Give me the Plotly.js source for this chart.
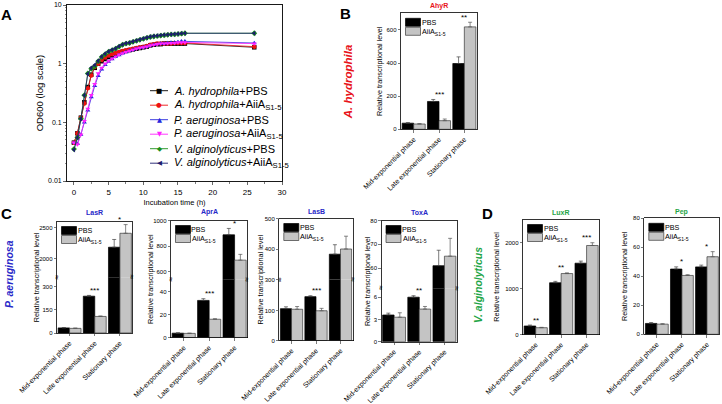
<!DOCTYPE html>
<html><head><meta charset="utf-8">
<script src="https://cdn.plot.ly/plotly-3.0.1.min.js"></script>
<style>html,body{margin:0;padding:0;background:#fff}#chart{width:722px;height:404px}</style>
</head><body><div id="chart"></div>
<script>
// ---------------- Panel A: growth curves (OD600) ----------------
const timeH = [0,0.5,1,1.5,2,2.5,3,3.5,4,4.5,5,5.5,6,6.5,7,7.5,8,8.5,9,9.5,10,10.5,11,11.5,12,12.5,13,13.5,14,14.5,15,15.5,16,26];
const odAhPBS  = [0.045,0.065,0.12,0.22,0.40,0.65,0.85,1.0,1.1,1.2,1.3,1.38,1.45,1.52,1.6,1.65,1.7,1.75,1.8,1.85,1.9,1.95,2.05,2.1,2.15,2.15,2.2,2.2,2.2,2.2,2.2,2.2,2.2,1.9];
const odAhAiiA = [0.045,0.065,0.12,0.21,0.38,0.63,0.88,1.0,1.15,1.28,1.38,1.45,1.52,1.58,1.65,1.7,1.75,1.8,1.85,1.9,1.95,2.0,2.1,2.15,2.2,2.2,2.2,2.2,2.2,2.25,2.25,2.25,2.25,1.95];
const odPaPBS  = [0.045,0.043,0.062,0.1,0.16,0.27,0.42,0.62,0.8,0.95,1.08,1.2,1.3,1.4,1.5,1.58,1.65,1.72,1.8,1.85,1.9,1.95,2.05,2.1,2.15,2.2,2.2,2.25,2.3,2.3,2.35,2.4,2.4,2.25];
const odPaAiiA = [0.045,0.042,0.062,0.105,0.17,0.29,0.45,0.68,0.85,1.0,1.12,1.22,1.32,1.42,1.5,1.58,1.65,1.72,1.8,1.85,1.9,1.95,2.05,2.1,2.15,2.2,2.2,2.22,2.25,2.25,2.3,2.3,2.3,2.2];
const odVaPBS  = [0.035,0.055,0.115,0.29,0.68,0.82,0.9,1.1,1.3,1.45,1.6,1.7,1.8,1.95,2.1,2.2,2.25,2.35,2.45,2.55,2.65,2.75,2.85,2.9,2.95,3.0,3.05,3.1,3.15,3.15,3.2,3.25,3.3,3.3];
const odVaAiiA = [0.034,0.055,0.115,0.29,0.67,0.85,0.95,1.12,1.32,1.48,1.62,1.72,1.82,1.98,2.12,2.22,2.28,2.38,2.48,2.58,2.68,2.78,2.88,2.95,3.0,3.05,3.1,3.12,3.15,3.2,3.22,3.28,3.3,3.3];
const growthLabels = ['<i>A. hydrophila</i>+PBS','<i>A. hydrophila</i>+AiiA<sub>S1-5</sub>','<i>P. aeruginosa</i>+PBS','<i>P. aeruginosa</i>+AiiA<sub>S1-5</sub>','<i>V. alginolyticus</i>+PBS','<i>V. alginolyticus</i>+AiiA<sub>S1-5</sub>'];
const odTickVals = [0.01,0.1,1,10];
const odTickText = ['0.01','0.1','1','10'];

// ---------------- Panels B-D: relative transcriptional level ----------------
const phases = ['Mid-exponential phase','Late exponential phase','Stationary phase'];
const ahyrPBS = [37,168,397],      ahyrPBSErr = [3,12,40],     ahyrAiiA = [32,52,618],     ahyrAiiAErr = [2,10,28],    ahyrSig = ['','***','**'];
const lasrPBS = [33,238,2185],     lasrPBSErr = [2,5,125],     lasrAiiA = [30,107,2410],   lasrAiiAErr = [2,3,140],    lasrSig = ['','***','*'];
const aprAPBS = [3.8,32.5,888],    aprAPBSErr = [0.3,1.5,50],  aprAAiiA = [3.6,16,690],    aprAAiiAErr = [0.2,0.4,45], aprASig = ['','***','*'];
const lasbPBS = [106,146,383],     lasbPBSErr = [6,3,31],      lasbAiiA = [104,99,400],    lasbAiiAErr = [9,8,42],     lasbSig = ['','***',''];
const toxAPBS = [3.6,6.0,61],      toxAPBSErr = [0.25,0.2,6.5],toxAAiiA = [3.3,4.4,65],    toxAAiiAErr = [0.6,0.35,7.5],toxASig = ['','**',''];
const luxrPBS = [185,1125,1550],   luxrPBSErr = [20,30,45],    luxrAiiA = [148,1325,1935], luxrAiiAErr = [8,15,60],    luxrSig = ['**','**','***'];
const pepPBS  = [7.5,45,46.5],     pepPBSErr = [0.6,1.5,1.2],  pepAiiA  = [7,40.6,53.5],   pepAiiAErr = [0.3,0.5,3.5], pepSig = ['','*','*'];

// ---------------- styles & geometry ----------------
const FONT = 'Liberation Sans, Arial, Helvetica, sans-serif';
const W = 722, H = 404;
const px = v => v / W;
const py = v => 1 - v / H;
const RED = '#e8141b', BLUE = '#2828c8', GREEN = '#1fa547';
const YTITLE = 'Relative transcriptional level';

const growthStyle = [
  {color:'#000000', symbol:'square',        glyph:'\u25A0'},
  {color:'#ee1111', symbol:'circle',        glyph:'\u25CF'},
  {color:'#2525dd', symbol:'triangle-up',   glyph:'\u25B2'},
  {color:'#ff22ff', symbol:'triangle-down', glyph:'\u25BC'},
  {color:'#1a8f1a', symbol:'diamond',       glyph:'\u25C6'},
  {color:'#1c1c6e', symbol:'triangle-left', glyph:'\u25C0'}
];
const growthData = [odAhPBS, odAhAiiA, odPaPBS, odPaAiiA, odVaPBS, odVaAiiA];

const traces = [];
const layout = {
  width: W, height: H,
  margin: {l:0, r:0, t:0, b:0, pad:0},
  paper_bgcolor: '#ffffff', plot_bgcolor: 'rgba(0,0,0,0)',
  font: {family: FONT, size: 7, color: '#000'},
  showlegend: false,
  barmode: 'group', bargap: 0.09, bargroupgap: 0,
  annotations: [], shapes: [],
  xaxis: {
    domain: [px(67), px(282)], anchor: 'y', range: [-1, 30],
    tick0: 0, dtick: 5, ticks: 'outside', ticklen: 3, tickwidth: 0.8,
    minor: {dtick: 2.5, tick0: 0, ticks: 'outside', ticklen: 1.8, tickwidth: 0.7},
    tickfont: {size: 8}, showline: true, linewidth: 0.9, linecolor: '#000', mirror: true,
    showgrid: false, zeroline: false, fixedrange: true, automargin: false,
    title: {text: 'Incubation time (h)', font: {size: 7.5}, standoff: 4}
  },
  yaxis: {
    domain: [py(181), py(5)], anchor: 'x', type: 'log', range: [-2, 1],
    tickvals: odTickVals, ticktext: odTickText, ticks: 'outside', ticklen: 3, tickwidth: 0.8,
    minor: {dtick: 'D1', ticks: 'outside', ticklen: 1.6, tickwidth: 0.6},
    tickfont: {size: 7}, showline: true, linewidth: 0.9, linecolor: '#000', mirror: true,
    showgrid: false, zeroline: false, fixedrange: true, automargin: false,
    title: {text: 'OD600 (log scale)', font: {size: 9.5}, standoff: 2}
  }
};

// Panel A traces
growthData.forEach((ys, i) => {
  const st = growthStyle[i];
  traces.push({
    type: 'scatter', mode: 'lines+markers', x: timeH, y: ys, xaxis: 'x', yaxis: 'y',
    name: growthLabels[i],
    line: {color: st.color, width: 0.8},
    marker: {symbol: st.symbol, size: 4.5, color: st.color, line: {width: 0}}
  });
});

// Panel A hand-built legend (compact spacing as in the original)
const legTop = 90.7, legStep = 14.5;
growthLabels.forEach((lab, i) => {
  const st = growthStyle[i];
  const yy = legTop + i * legStep;
  layout.shapes.push({type:'line', xref:'paper', yref:'paper', x0:px(150), x1:px(168), y0:py(yy), y1:py(yy), line:{color:st.color, width:0.9}});
  layout.annotations.push({xref:'paper', yref:'paper', x:px(159), y:py(yy), text:st.glyph, showarrow:false, xanchor:'center', yanchor:'middle', font:{family:'DejaVu Sans', size:6.5, color:st.color}});
  layout.annotations.push({xref:'paper', yref:'paper', x:px(172), y:py(yy), text:lab, showarrow:false, xanchor:'left', yanchor:'middle', font:{size:11, color:'#000'}});
});

// ---------------- bar panels ----------------
const barPanels = [
  {title:'AhyR', color:RED,  pbs:ahyrPBS, pbsErr:ahyrPBSErr, aiia:ahyrAiiA, aiiaErr:ahyrAiiAErr, sig:ahyrSig,
   x0:401, x1:477, yTop:13.3, yBot:129.3, range:[0,700], ticks:[0,200,400,600], titleY:5.5, standoff:2},
  {title:'LasR', color:BLUE, pbs:lasrPBS, pbsErr:lasrPBSErr, aiia:lasrAiiA, aiiaErr:lasrAiiAErr, sig:lasrSig,
   x0:57, x1:132.5, yTop:221.5, yBot:333, yBreak:277.3, lowRange:[0,360], lowTicks:[0,150,300], upRange:[1700,2600], upTicks:[2000,2500], titleY:212, yTitleX:36},
  {title:'AprA', color:BLUE, pbs:aprAPBS, pbsErr:aprAPBSErr, aiia:aprAAiiA, aiiaErr:aprAAiiAErr, sig:aprASig,
   x0:171, x1:247.3, yTop:220.5, yBot:337.5, yBreak:279.3, lowRange:[0,51], lowTicks:[0,20,40], upRange:[540,1000], upTicks:[600,800,1000], titleY:212, yTitleX:150},
  {title:'LasB', color:BLUE, pbs:lasbPBS, pbsErr:lasbPBSErr, aiia:lasbAiiA, aiiaErr:lasbAiiAErr, sig:lasbSig,
   x0:279.3, x1:352.7, yTop:218.5, yBot:340.5, yBreak:279.5, lowRange:[0,203], lowTicks:[0,100], upRange:[300,500], upTicks:[300,400,500], titleY:211.5, yTitleX:260},
  {title:'ToxA', color:BLUE, pbs:toxAPBS, pbsErr:toxAPBSErr, aiia:toxAAiiA, aiiaErr:toxAAiiAErr, sig:toxASig,
   x0:381.5, x1:457, yTop:220.5, yBot:341.7, yBreak:288.3, lowRange:[0,7.2], lowTicks:[0,3,6], upRange:[51.5,80], upTicks:[60,70,80], titleY:212.5, yTitleX:367},
  {title:'LuxR', color:GREEN, pbs:luxrPBS, pbsErr:luxrPBSErr, aiia:luxrAiiA, aiiaErr:luxrAiiAErr, sig:luxrSig,
   x0:523, x1:599.3, yTop:219.5, yBot:334.5, range:[0,2500], ticks:[0,1000,2000], titleY:212, standoff:4},
  {title:'Pep', color:GREEN, pbs:pepPBS, pbsErr:pepPBSErr, aiia:pepAiiA, aiiaErr:pepAiiAErr, sig:pepSig,
   x0:644.3, x1:719.5, yTop:218.3, yBot:334.3, range:[0,80], ticks:[0,20,40,60,80], titleY:212, standoff:4}
];

const PBS_FILL = '#000000', AIIA_FILL = '#c4c4c4', AIIA_LINE = '#3a3a3a';
let axisIdx = 2;

barPanels.forEach(p => {
  const broken = p.yBreak !== undefined;
  const segs = broken
    ? [{dom:[py(p.yBot), py(p.yBreak)], range:p.lowRange, ticks:p.lowTicks, low:true, single:false},
       {dom:[py(p.yBreak), py(p.yTop)], range:p.upRange, ticks:p.upTicks, low:false, single:false}]
    : [{dom:[py(p.yBot), py(p.yTop)], range:p.range, ticks:p.ticks, low:true, single:true}];
  const segRefs = [];
  segs.forEach(s => {
    const n = axisIdx++;
    const xr = 'x' + n, yr = 'y' + n;
    const common = {domain:[px(p.x0), px(p.x1)], anchor:yr, type:'category', range:[-0.5, 2.5],
      showline:true, linewidth:0.8, linecolor:'#000', showgrid:false, zeroline:false, fixedrange:true, automargin:false};
    if (s.low) {
      layout['xaxis' + n] = Object.assign({}, common, {
        tickangle:-45, tickfont:{size:7}, ticks:'outside', ticklen:2.5, tickwidth:0.7, mirror:s.single});
    } else {
      layout['xaxis' + n] = Object.assign({}, common, {side:'top', showticklabels:false, ticks:''});
    }
    layout['yaxis' + n] = {domain:s.dom, anchor:xr, range:s.range, tickvals:s.ticks,
      ticks:'outside', ticklen:2.5, tickwidth:0.7, tickfont:{size:6},
      showline:true, linewidth:0.8, linecolor:'#000', mirror:true,
      showgrid:false, zeroline:false, fixedrange:true, automargin:false};
    if (s.single) layout['yaxis' + n].title = {text: YTITLE, font: {size: 7.2}, standoff: p.standoff};
    traces.push({type:'bar', name:'PBS', x:phases, y:p.pbs, xaxis:xr, yaxis:yr,
      marker:{color:PBS_FILL, line:{color:'#000', width:0.7}},
      error_y:{type:'data', array:p.pbsErr, arrayminus:p.pbs.map(() => 0), color:'#444', thickness:0.7, width:2}});
    traces.push({type:'bar', name:'AiiA<sub>S1-5</sub>', x:phases, y:p.aiia, xaxis:xr, yaxis:yr,
      marker:{color:AIIA_FILL, line:{color:AIIA_LINE, width:0.7}},
      error_y:{type:'data', array:p.aiiaErr, arrayminus:p.aiia.map(() => 0), color:'#555', thickness:0.7, width:2}});
    segRefs.push({xr, yr, range:s.range});
  });

  // significance stars
  p.sig.forEach((txt, i) => {
    if (!txt) return;
    const top = Math.max(p.pbs[i] + p.pbsErr[i], p.aiia[i] + p.aiiaErr[i]);
    let ref = segRefs[0];
    if (segRefs.length > 1 && top > segRefs[0].range[1]) ref = segRefs[1];
    layout.annotations.push({xref:ref.xr, yref:ref.yr, x:i, y:top, text:txt, showarrow:false,
      xanchor:'center', yanchor:'middle', yshift:5, font:{size:8}});
  });

  if (broken) {
    // break marks
    [p.x0, p.x1].forEach(xx => layout.annotations.push({xref:'paper', yref:'paper', x:px(xx), y:py(p.yBreak),
      text:'\u2248', textangle:-90, showarrow:false, xanchor:'center', yanchor:'middle', font:{size:7, family:'DejaVu Sans'}}));
    // y title spanning both segments
    layout.annotations.push({xref:'paper', yref:'paper', x:px(p.yTitleX), y:py((p.yTop + p.yBot) / 2), text:YTITLE,
      textangle:-90, showarrow:false, xanchor:'center', yanchor:'middle', font:{size:7.2}});
  }

  // panel title
  layout.annotations.push({xref:'paper', yref:'paper', x:px((p.x0 + p.x1) / 2), y:py(p.titleY), text:p.title,
    showarrow:false, xanchor:'center', yanchor:'middle', font:{size:7, color:p.color, weight:'bold'}});
  // in-panel legend (swatches + labels)
  const lx0 = p.x0 + 4.5, lx1 = p.x0 + 19.5;
  layout.shapes.push({type:'rect', xref:'paper', yref:'paper', x0:px(lx0), x1:px(lx1), y0:py(p.yTop + 5), y1:py(p.yTop + 13),
    fillcolor:PBS_FILL, line:{color:'#000', width:0.7}});
  layout.shapes.push({type:'rect', xref:'paper', yref:'paper', x0:px(lx0), x1:px(lx1), y0:py(p.yTop + 14), y1:py(p.yTop + 22),
    fillcolor:AIIA_FILL, line:{color:AIIA_LINE, width:0.7}});
  layout.annotations.push({xref:'paper', yref:'paper', x:px(lx1 + 8.5), y:py(p.yTop + 9), text:'PBS', showarrow:false,
    xanchor:'center', yanchor:'middle', font:{size:7.2}});
  layout.annotations.push({xref:'paper', yref:'paper', x:px(lx1 + 13.5), y:py(p.yTop + 18.5), text:'AiiA<sub>S1-5</sub>', showarrow:false,
    xanchor:'center', yanchor:'middle', font:{size:7.2}});
});

// panel letters and species labels
[['A', 7, 14], ['B', 345, 13.3], ['C', 6, 213.7], ['D', 487.5, 213.5]].forEach(([t, x, y]) =>
  layout.annotations.push({xref:'paper', yref:'paper', x:px(x), y:py(y), text:t, showarrow:false,
    xanchor:'center', yanchor:'middle', font:{size:15, color:'#000', weight:'bold'}}));
[['A. hydrophila', 347.5, 81.7, RED, 11.5], ['P. aeruginosa', 9, 274, BLUE, 10.5], ['V. alginolyticus', 478, 285, GREEN, 10.5]].forEach(([t, x, y, c, s]) =>
  layout.annotations.push({xref:'paper', yref:'paper', x:px(x), y:py(y), text:t, textangle:-90, showarrow:false,
    xanchor:'center', yanchor:'middle', font:{size:s, color:c, weight:'bold', style:'italic'}}));

Plotly.newPlot('chart', traces, layout, {staticPlot:true, displayModeBar:false});
</script>
</body></html>
